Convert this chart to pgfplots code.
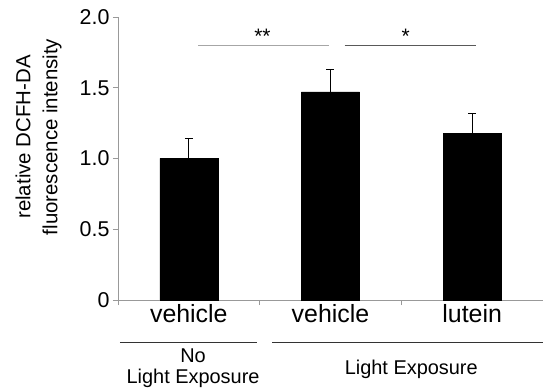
\documentclass[border=0pt]{standalone}
\usepackage{pgfplots}
\pgfplotsset{compat=1.18}
\usepackage{fontspec}
\setmainfont{Liberation Sans}
\begin{document}
\begin{tikzpicture}
\useasboundingbox (-118bp,-89bp) rectangle (425bp,300bp);
\begin{axis}[
  at={(0,0)}, anchor=origin,
  scale only axis, width=425bp, height=283bp,
  xmin=0, xmax=3, ymin=0, ymax=2,
  axis x line*=bottom, axis y line*=left,
  axis line style={draw=gray!80, line width=0.8pt},
  separate axis lines,
  x axis line style={-}, y axis line style={-},
  xtick={0,1,2,3}, xticklabels={},
  extra x ticks={0.5,1.5,2.5},
  extra x tick labels={vehicle,vehicle,lutein},
  extra x tick style={major tick length=0pt, tick label style={font=\fontsize{25}{28}\selectfont, yshift=-1bp}},
  ytick={0,0.5,1,1.5,2},
  yticklabels={0,0.5,1.0,1.5,2.0},
  tick label style={font=\fontsize{21.5}{24}\selectfont},
  /pgf/number format/assume math mode=true,
  major tick length=5bp,
  tick align=outside,
  tick style={draw=gray!80, line width=0.8pt},
  ylabel={\begin{tabular}{@{}c@{}}relative DCFH-DA\\[5bp]fluorescence intensity\end{tabular}},
  ylabel style={font=\fontsize{20.5}{22}\selectfont, at={(ticklabel cs:0.576)}, yshift=9bp},
  clip=false,
]
\addplot[ybar, bar width=0.41, fill=black, draw=black,
  error bars/.cd, y dir=plus, y explicit,
  error bar style={line width=1pt, black},
  error mark options={rotate=90, mark size=4bp, line width=1pt}]
  coordinates {(0.5,1.00) +- (0,0.14) (1.5,1.47) +- (0,0.16) (2.5,1.18) +- (0,0.14)};
\draw[gray!70, line width=1pt] (axis cs:0.565,1.80) -- (axis cs:1.49,1.80);
\draw[gray!70!black, line width=0.8pt] (axis cs:1.60,1.80) -- (axis cs:2.53,1.80);
\node[font=\fontsize{21}{22}\selectfont] at (axis cs:1.02,1.865) {**};
\node[font=\fontsize{21}{22}\selectfont] at (axis cs:2.03,1.865) {*};
\draw[gray!40!black, line width=0.8pt] ([yshift=-42bp]axis cs:0.014,0) -- ([yshift=-42bp]axis cs:0.98,0);
\draw[gray!40!black, line width=0.8pt] ([yshift=-42bp]axis cs:1.09,0) -- ([yshift=-42bp]axis cs:3.0,0);
\node[font=\fontsize{20}{21}\selectfont, align=center] at ([yshift=-68bp]axis cs:0.53,0) {No\\Light Exposure};
\node[font=\fontsize{20}{21}\selectfont] at ([yshift=-69bp]axis cs:2.07,0) {Light Exposure};
\end{axis}
\end{tikzpicture}
\end{document}
